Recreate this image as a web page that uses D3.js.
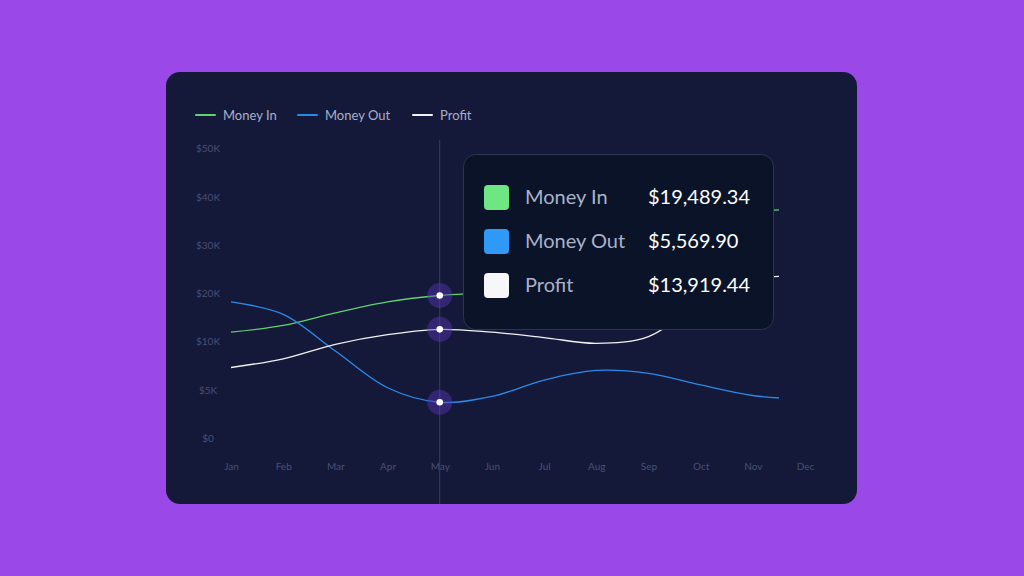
<!DOCTYPE html>
<html>
<head>
<meta charset="utf-8">
<script src="https://cdn.jsdelivr.net/npm/d3@7"></script>
<style>
  html, body { margin: 0; padding: 0; background: #9b48e8; }
  svg { display: block; font-family: Lato, "Noto Sans", sans-serif; }
</style>
</head>
<body>
<div class="chart"></div>
<script>
// data
var months = ['Jan', 'Feb', 'Mar', 'Apr', 'May', 'Jun', 'Jul', 'Aug', 'Sep', 'Oct', 'Nov', 'Dec'];
var moneyIn  = [11900, 13300, 15900, 18200, 19500, 20200, 21500, 24000, 28000, 33000, 36700, 37300];
var moneyOut = [18200, 15600, 9000, 5200, 3700, 4300, 6000, 7000, 6700, 5500, 4400, 4000];
var profit   = [7300, 8200, 9700, 11400, 12500, 11900, 10800, 9800, 11000, 18000, 22900, 23400];
var yTicks = [0, 5000, 10000, 20000, 30000, 40000, 50000];
var yTickLabels = ['$0', '$5K', '$10K', '$20K', '$30K', '$40K', '$50K'];
var seriesNames = ['Money In', 'Money Out', 'Profit'];
var seriesColors = ['#5fd36f', '#2b8ae8', '#f2f2f6'];
var swatchColors = ['#6ee683', '#2f99f7', '#f7f7f9'];
var tipValues = ['$19,489.34', '$5,569.90', '$13,919.44'];
var hoverIndex = 4;

var W = 1024, H = 576;
var svg = d3.select('.chart').append('svg').attr('width', W).attr('height', H);

svg.append('rect').attr('width', W).attr('height', H).attr('fill', '#9b48e8');
svg.append('rect')
  .attr('x', 166).attr('y', 72).attr('width', 691).attr('height', 432)
  .attr('rx', 14).attr('fill', '#141939');

var x = d3.scalePoint().domain(months).range([231, 805]);
var y = d3.scaleLinear().domain(yTicks).range(yTicks.map(function(d, i) { return 438 - i * 48.3; }));

// axes
var yAxis = svg.append('g')
  .attr('transform', 'translate(208,0)')
  .call(d3.axisLeft(y).tickValues(yTicks).tickSize(0).tickPadding(0)
    .tickFormat(function(d, i) { return yTickLabels[i]; }));
yAxis.select('.domain').remove();
yAxis.selectAll('text')
  .attr('text-anchor', 'middle').attr('dy', '0.35em')
  .attr('fill', '#4a5074').style('font-size', '10px').style('font-family', 'Lato, sans-serif');

var xAxis = svg.append('g')
  .attr('transform', 'translate(0,466)')
  .call(d3.axisBottom(x).tickSize(0).tickPadding(0));
xAxis.select('.domain').remove();
xAxis.selectAll('text')
  .attr('dy', '0.35em').attr('y', 0)
  .attr('fill', '#4a5074').style('font-size', '10px').style('font-family', 'Lato, sans-serif');

// crosshair
svg.append('line')
  .attr('x1', x(months[hoverIndex])).attr('x2', x(months[hoverIndex]))
  .attr('y1', 140).attr('y2', 504)
  .attr('stroke', '#383e60').attr('stroke-width', 1);

// lines, clipped half way between Nov and Dec
var step = x.step();
svg.append('clipPath').attr('id', 'clip')
  .append('rect').attr('x', 0).attr('y', 0)
  .attr('width', x('Nov') + step / 2).attr('height', H);

var series = [moneyIn, moneyOut, profit];
var line = d3.line()
  .x(function(d, i) { return x(months[i]); })
  .y(function(d) { return y(d); })
  .curve(d3.curveCatmullRom.alpha(0.5));

svg.append('g').attr('clip-path', 'url(#clip)')
  .selectAll('path')
  .data(series)
  .enter().append('path')
  .attr('d', line)
  .attr('fill', 'none')
  .attr('stroke', function(d, i) { return seriesColors[i]; })
  .attr('stroke-width', 1.3);

// hover markers
var markers = svg.append('g').selectAll('g')
  .data(series)
  .enter().append('g')
  .attr('transform', function(d) { return 'translate(' + x(months[hoverIndex]) + ',' + y(d[hoverIndex]) + ')'; });
markers.append('circle').attr('r', 12.5).attr('fill', '#5a36b8').attr('fill-opacity', 0.45);
markers.append('circle').attr('r', 3.3).attr('fill', '#ffffff');

// legend
var legend = svg.append('g').selectAll('g')
  .data(seriesNames)
  .enter().append('g')
  .attr('transform', function(d, i) { return 'translate(' + [196, 298, 413][i] + ',115)'; });
legend.append('line')
  .attr('x1', 0).attr('x2', 19)
  .attr('stroke', function(d, i) { return seriesColors[i]; })
  .attr('stroke-width', 2).attr('stroke-linecap', 'round');
legend.append('text')
  .attr('x', 27).attr('dy', '0.35em')
  .attr('fill', '#a8afc9').style('font-size', '13px')
  .text(function(d) { return d; });

// tooltip
var tip = svg.append('g').attr('transform', 'translate(463,154)');
tip.append('rect')
  .attr('x', 0.5).attr('y', 0.5).attr('width', 310).attr('height', 175)
  .attr('rx', 12).attr('fill', '#0b1328').attr('stroke', '#2b3452').attr('stroke-width', 1);
var rows = tip.selectAll('g.row')
  .data(seriesNames)
  .enter().append('g')
  .attr('class', 'row')
  .attr('transform', function(d, i) { return 'translate(0,' + (43 + i * 44) + ')'; });
rows.append('rect')
  .attr('x', 21).attr('y', -12).attr('width', 25).attr('height', 25).attr('rx', 4)
  .attr('fill', function(d, i) { return swatchColors[i]; });
rows.append('text')
  .attr('x', 62).attr('dy', '0.35em')
  .attr('fill', '#a9b2ca').style('font-size', '20px')
  .text(function(d) { return d; });
rows.append('text')
  .attr('x', 185).attr('dy', '0.35em')
  .attr('fill', '#ffffff').style('font-size', '20px')
  .text(function(d, i) { return tipValues[i]; });
</script>
</body>
</html>
